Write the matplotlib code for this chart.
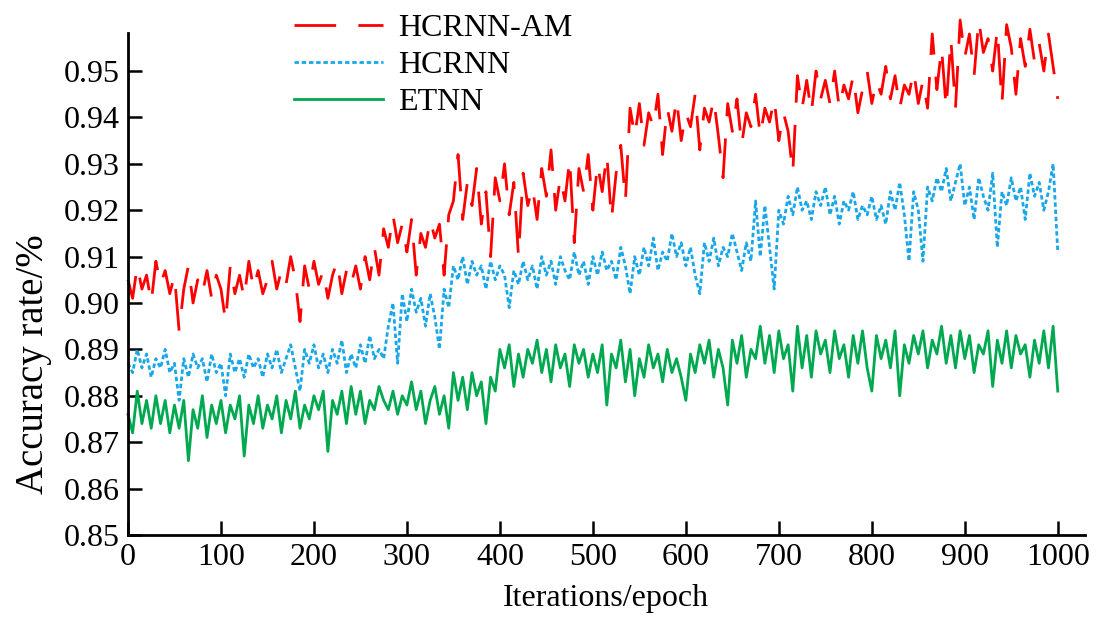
import numpy as np
import matplotlib.pyplot as plt

plt.rcParams['font.family'] = ['Liberation Serif', 'DejaVu Serif']

epochs = np.arange(0, 1001, 5)

hcrnn_am = [
    0.905, 0.901, 0.908, 0.903, 0.906, 0.900, 0.909, 0.904, 0.907, 0.902,
    0.906, 0.894, 0.903, 0.908, 0.900, 0.905, 0.902, 0.907, 0.901, 0.906,
    0.903, 0.896, 0.908, 0.902, 0.906, 0.901, 0.909, 0.903, 0.907, 0.902,
    0.905, 0.909, 0.903, 0.907, 0.904, 0.910, 0.905, 0.896, 0.908, 0.903,
    0.909, 0.904, 0.907, 0.901, 0.906, 0.909, 0.902, 0.907, 0.904, 0.908,
    0.903, 0.910, 0.905, 0.912, 0.906, 0.916, 0.912, 0.919, 0.913, 0.917,
    0.911, 0.918, 0.906, 0.915, 0.912, 0.918, 0.914, 0.917, 0.906, 0.919,
    0.922, 0.932, 0.918, 0.926, 0.921, 0.929, 0.917, 0.924, 0.910, 0.927,
    0.922, 0.930, 0.919, 0.926, 0.910, 0.928, 0.921, 0.925, 0.918, 0.929,
    0.923, 0.933, 0.920, 0.927, 0.922, 0.931, 0.913, 0.929, 0.924, 0.932,
    0.920, 0.930, 0.924, 0.932, 0.918, 0.928, 0.934, 0.922, 0.942, 0.936,
    0.943, 0.934, 0.941, 0.938, 0.945, 0.932, 0.942, 0.937, 0.944, 0.935,
    0.941, 0.938, 0.945, 0.933, 0.942, 0.939, 0.944, 0.936, 0.927, 0.943,
    0.937, 0.944, 0.934, 0.941, 0.938, 0.945, 0.936, 0.942, 0.939, 0.944,
    0.935, 0.941, 0.937, 0.928, 0.949, 0.942, 0.948, 0.941, 0.950, 0.944,
    0.948, 0.943, 0.950, 0.942, 0.947, 0.944, 0.949, 0.941, 0.946, 0.950,
    0.943, 0.948, 0.945, 0.951, 0.944, 0.949, 0.942, 0.947, 0.945, 0.950,
    0.943, 0.948, 0.942, 0.958, 0.946, 0.955, 0.942, 0.957, 0.942, 0.961,
    0.953, 0.958, 0.949, 0.961, 0.954, 0.957, 0.950, 0.959, 0.943, 0.960,
    0.955, 0.945, 0.957, 0.951, 0.959, 0.952, 0.956, 0.950, 0.958, 0.951,
    0.944,
]

hcrnn = [
    0.887, 0.885, 0.890, 0.886, 0.889, 0.884, 0.888, 0.886, 0.890, 0.885,
    0.887, 0.879, 0.888, 0.884, 0.889, 0.886, 0.888, 0.883, 0.889, 0.885,
    0.887, 0.880, 0.889, 0.885, 0.888, 0.884, 0.889, 0.886, 0.888, 0.884,
    0.889, 0.886, 0.890, 0.885, 0.888, 0.891, 0.886, 0.881, 0.890, 0.887,
    0.891, 0.886, 0.889, 0.885, 0.890, 0.887, 0.892, 0.885, 0.889, 0.886,
    0.891, 0.887, 0.893, 0.888, 0.890, 0.888, 0.895, 0.900, 0.887, 0.902,
    0.896, 0.903, 0.898, 0.901, 0.895, 0.902, 0.897, 0.890, 0.903, 0.899,
    0.908, 0.905, 0.910, 0.904, 0.909, 0.906, 0.908, 0.903, 0.909, 0.905,
    0.908, 0.906, 0.899, 0.907, 0.904, 0.909, 0.905, 0.908, 0.903, 0.910,
    0.906, 0.909, 0.904, 0.910, 0.907, 0.905, 0.911, 0.906, 0.909, 0.904,
    0.910, 0.906, 0.911, 0.907, 0.909, 0.905, 0.912, 0.908, 0.902, 0.910,
    0.906, 0.912, 0.908, 0.914, 0.907, 0.911, 0.909, 0.915, 0.910, 0.913,
    0.908, 0.912, 0.906, 0.902, 0.913, 0.909, 0.914, 0.908, 0.912, 0.910,
    0.915, 0.911, 0.907, 0.913, 0.909, 0.922, 0.910, 0.921, 0.912, 0.903,
    0.920, 0.917, 0.923, 0.919, 0.925, 0.920, 0.922, 0.918, 0.924, 0.921,
    0.925, 0.919, 0.923, 0.917, 0.922, 0.920, 0.924, 0.918, 0.921, 0.919,
    0.923, 0.918, 0.921, 0.917, 0.924, 0.920, 0.926, 0.919, 0.909, 0.924,
    0.920, 0.909, 0.925, 0.922, 0.927, 0.924, 0.929, 0.922, 0.926, 0.930,
    0.921, 0.925, 0.918, 0.927, 0.923, 0.920, 0.928, 0.912, 0.924, 0.921,
    0.927, 0.922, 0.925, 0.918, 0.928, 0.923, 0.926, 0.920, 0.924, 0.930,
    0.911,
]

etnn = [
    0.876, 0.872, 0.881, 0.874, 0.879, 0.873, 0.880, 0.874, 0.879, 0.872,
    0.878, 0.873, 0.879, 0.866, 0.877, 0.873, 0.880, 0.871, 0.878, 0.874,
    0.879, 0.872, 0.878, 0.875, 0.880, 0.867, 0.878, 0.874, 0.880, 0.873,
    0.878, 0.875, 0.880, 0.872, 0.879, 0.875, 0.881, 0.873, 0.878, 0.875,
    0.880, 0.877, 0.881, 0.868, 0.879, 0.876, 0.881, 0.874, 0.882, 0.876,
    0.881, 0.874, 0.879, 0.877, 0.882, 0.879, 0.877, 0.881, 0.876, 0.880,
    0.878, 0.883, 0.877, 0.881, 0.874, 0.879, 0.882, 0.876, 0.880, 0.873,
    0.885, 0.879, 0.884, 0.877, 0.885, 0.880, 0.883, 0.874, 0.884, 0.881,
    0.890, 0.886, 0.891, 0.882, 0.889, 0.884, 0.890, 0.887, 0.892, 0.885,
    0.890, 0.883, 0.891, 0.886, 0.889, 0.882, 0.891, 0.887, 0.890, 0.884,
    0.889, 0.885, 0.891, 0.878, 0.889, 0.886, 0.892, 0.883, 0.890, 0.880,
    0.888, 0.884, 0.891, 0.886, 0.889, 0.883, 0.890, 0.885, 0.888, 0.884,
    0.879, 0.889, 0.885, 0.891, 0.887, 0.892, 0.884, 0.890, 0.886, 0.878,
    0.892, 0.887, 0.893, 0.884, 0.890, 0.888, 0.895, 0.887, 0.893, 0.885,
    0.894, 0.888, 0.891, 0.881, 0.895, 0.886, 0.893, 0.884, 0.894, 0.889,
    0.892, 0.885, 0.894, 0.888, 0.891, 0.884, 0.893, 0.887, 0.894, 0.886,
    0.881, 0.893, 0.888, 0.892, 0.886, 0.894, 0.880, 0.891, 0.887, 0.893,
    0.889, 0.894, 0.886, 0.892, 0.889, 0.895, 0.887, 0.893, 0.886, 0.894,
    0.888, 0.893, 0.885, 0.891, 0.889, 0.894, 0.882, 0.892, 0.887, 0.894,
    0.886, 0.893, 0.889, 0.891, 0.884, 0.892, 0.887, 0.894, 0.886, 0.895,
    0.881,
]

fig = plt.figure(figsize=(11.08, 6.17), dpi=100)
ax = fig.add_axes([0.1155, 0.133, 0.8635, 0.8135])

ax.plot(epochs, hcrnn_am, color='#ff0000', lw=2, linestyle=(0, (15, 8)),
        label='HCRNN-AM', clip_on=False)
ax.plot(epochs, hcrnn, color='#1aa7e8', lw=2, linestyle=(0, (1.6, 1.0)),
        label='HCRNN', clip_on=False)
ax.plot(epochs, etnn, color='#00a84f', lw=2, label='ETNN', clip_on=False)

ax.set_xlim(0, 1029)
ax.set_ylim(0.85, 0.9582)
ax.set_xticks(np.arange(0, 1001, 100))
ax.set_yticks(np.arange(0.85, 0.951, 0.01))
ax.set_yticklabels(['%.2f' % v for v in np.arange(0.85, 0.951, 0.01)])

for s in ['top', 'right']:
    ax.spines[s].set_visible(False)
for s in ['left', 'bottom']:
    ax.spines[s].set_linewidth(2)
ax.tick_params(direction='in', length=10, width=1.8, labelsize=23)
ax.tick_params(axis='x', pad=6)
ax.tick_params(axis='y', pad=6)

ax.set_xlabel('Iterations/epoch', fontsize=23)
ax.xaxis.set_label_coords(0.5, -0.098)
ax.set_ylabel('Accuracy rate/%', fontsize=28)
ax.yaxis.set_label_coords(-0.079, 0.34)

fig.legend(loc='upper left', bbox_to_anchor=(0.239, 1.025), frameon=False,
           fontsize=23, handlelength=2.8, handletextpad=0.47, labelspacing=0.25)

fig.savefig('out.png', dpi=100)
